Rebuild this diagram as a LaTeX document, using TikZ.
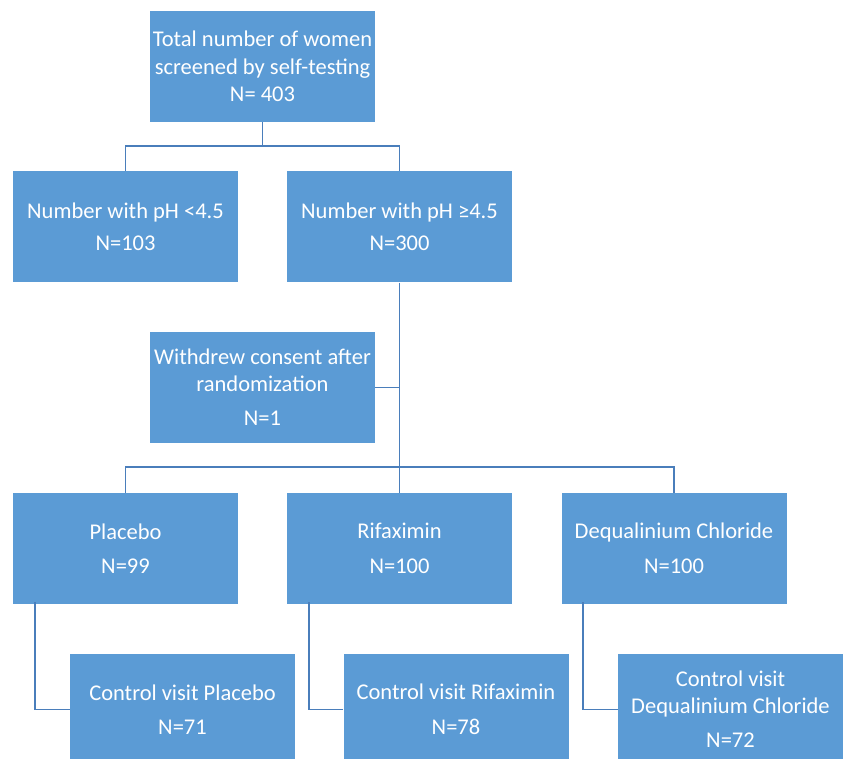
\documentclass[tikz,border=0pt]{standalone}
\usepackage{fontspec}
\setmainfont{Carlito}
\definecolor{boxblue}{HTML}{5B9BD5}
\definecolor{lineblue}{HTML}{4A7EBB}
\begin{document}
\begin{tikzpicture}[x=1pt,y=-1pt,
  box/.style={fill=boxblue, draw=none, minimum width=225pt, minimum height=111pt,
    inner sep=0pt, align=center, text=white,
    font=\fontsize{22.5}{26.5}\selectfont},
  conn/.style={draw=lineblue, line width=1.8pt}]
\useasboundingbox (0,0) rectangle (843,759);
\clip (0,0) rectangle (843,759);
\fill[white] (0,0) rectangle (843,759);

\node[box] (top) at (262.5,66.5) {Total number of women\\[1pt]screened by self-testing\\[1pt]N= 403};
\node[box] (low) at (125.5,227) {Number with pH <4.5\\[5pt]N=103};
\node[box] (hi) at (399.5,227) {Number with pH ≥4.5\\[5pt]N=300};
\node[box] (wd) at (262.5,387.5) {Withdrew consent after\\randomization\\[8pt]N=1};
\node[box] (pl) at (125.5,548.5) {Placebo\\[8pt]N=99};
\node[box] (rf) at (399.5,548.5) {Rifaximin\\[8pt]N=100};
\node[box] (dq) at (674,548.5) {Dequalinium Chloride\\[8pt]N=100};
\node[box] (cpl) at (182.5,709.5) {Control visit Placebo\\[8pt]N=71};
\node[box] (crf) at (456,709.5) {Control visit Rifaximin\\[8pt]N=78};
\node[box] (cdq) at (730.5,709.5) {Control visit\\Dequalinium Chloride\\[8pt]N=72};

\draw[conn] (top.south) -- ++(0,24) -| (low.north);
\draw[conn] (top.south) -- ++(0,24) -| (hi.north);
\draw[conn] (hi.south) -- (rf.north);
\draw[conn] (wd.east) -- (wd.east -| hi.south);
\draw[conn] (pl.north) -- ++(0,-26) -| (dq.north);
\draw[conn] ([xshift=22pt,yshift=2pt]pl.south west) |- (cpl.west);
\draw[conn] ([xshift=22pt,yshift=2pt]rf.south west) |- (crf.west);
\draw[conn] ([xshift=22pt,yshift=2pt]dq.south west) |- (cdq.west);
\end{tikzpicture}
\end{document}
